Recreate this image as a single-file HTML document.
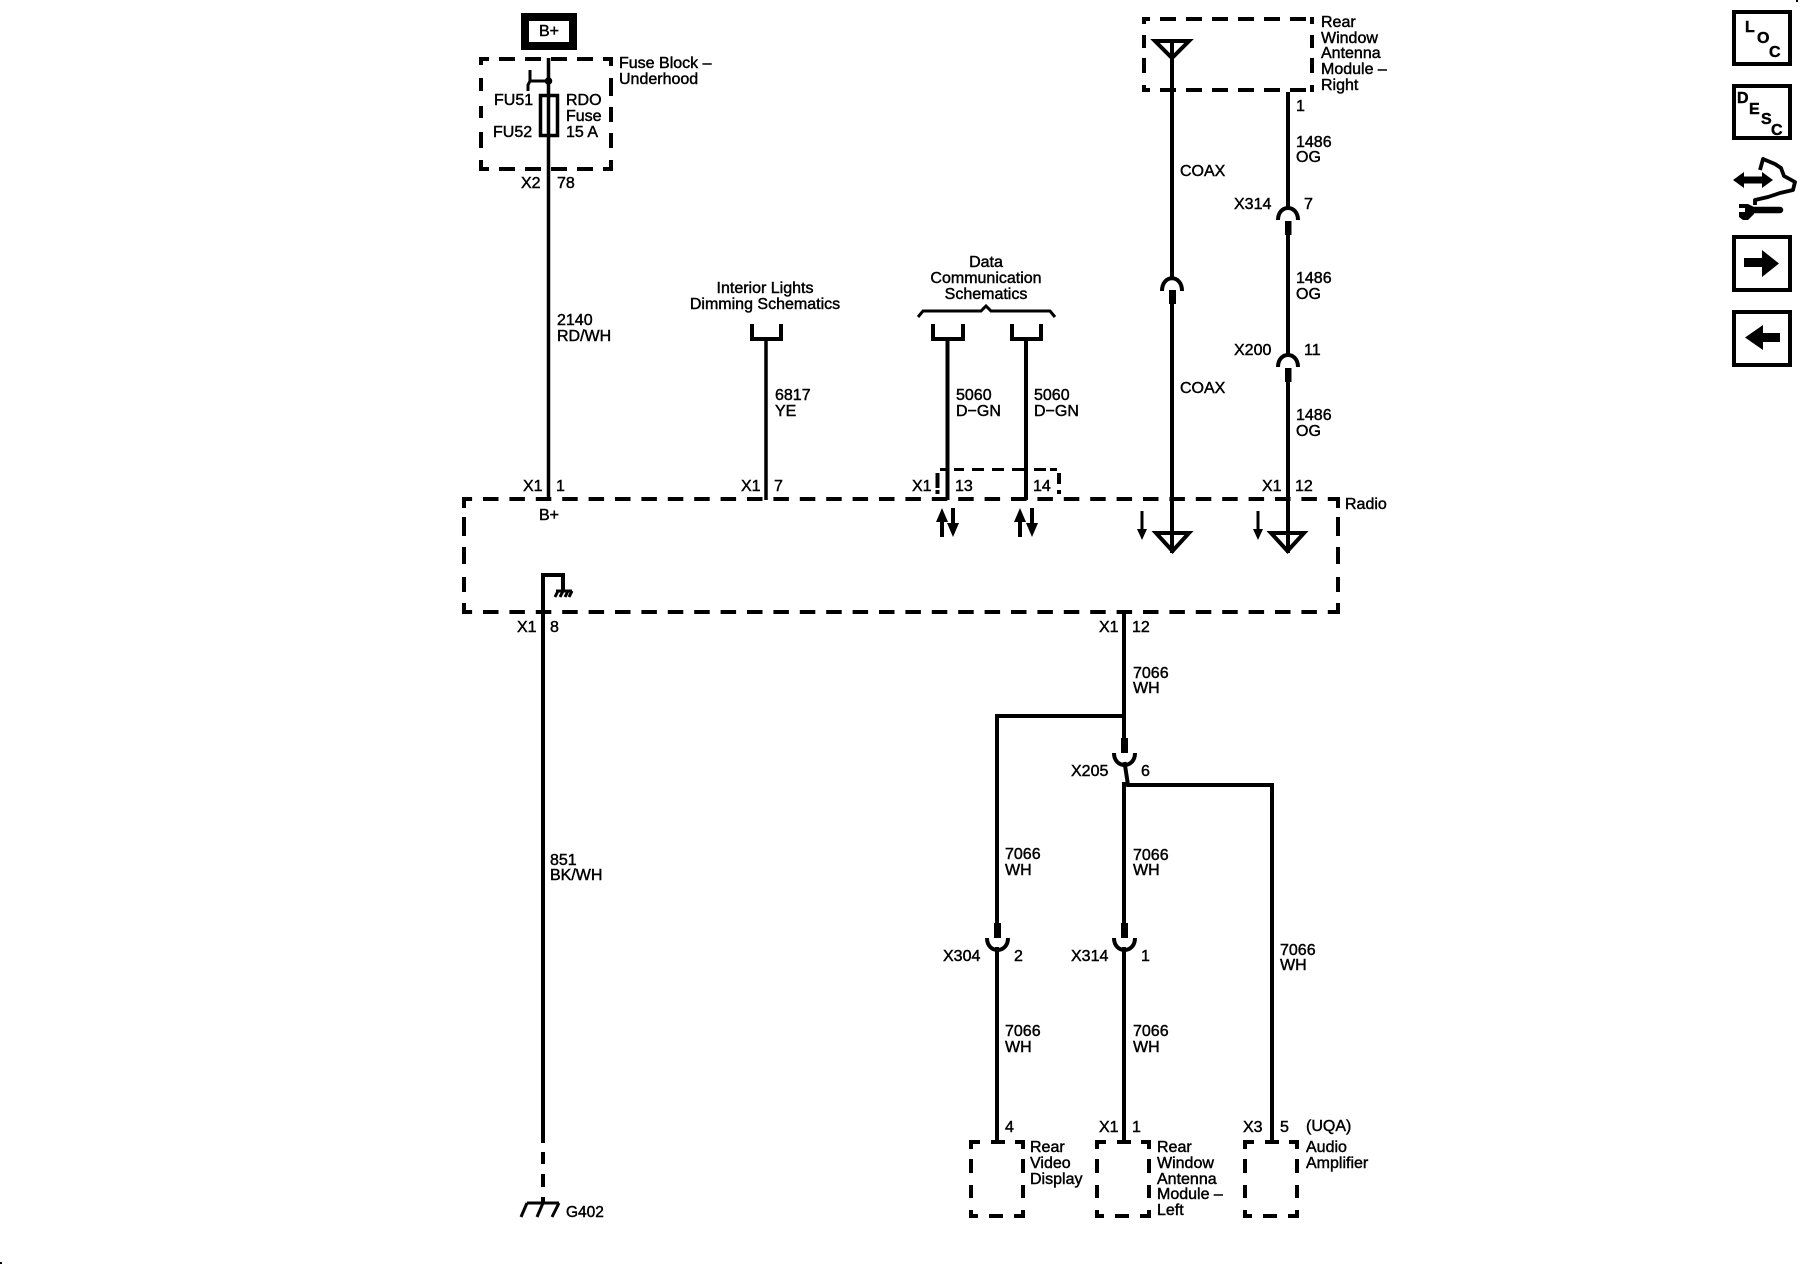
<!DOCTYPE html>
<html><head><meta charset="utf-8"><title>Radio wiring schematic</title>
<style>
html,body{margin:0;padding:0;background:#fff}
svg{display:block}
text{font-family:"Liberation Sans",sans-serif;font-size:16px;fill:#000;stroke:#000;stroke-width:.45px}
.m{text-anchor:middle}
.b{font-weight:bold}
.s{fill:none;stroke:#000;stroke-width:4}
.w{fill:none;stroke:#000;stroke-width:3.5}
.t{fill:none;stroke:#000;stroke-width:3}
.f{fill:#000;stroke:none}
.d{fill:none;stroke:#000;stroke-width:4;stroke-dasharray:15.5 10.9;stroke-dashoffset:5.4}
</style></head><body>
<svg xmlns="http://www.w3.org/2000/svg" width="1800" height="1280" viewBox="0 0 1800 1280">
<rect width="1800" height="1280" fill="#fff"/>

<!-- B+ source -->
<rect x="525" y="17" width="48" height="29" fill="none" stroke="#000" stroke-width="8"/>
<text x="539" y="36">B+</text>

<!-- Fuse block -->
<path class="s" d="M481 65V59H489M499 59H515M525 59H541M551 59H567M577 59H593M603 59H611V66M481 78V91M481 106V118M481 132V148M481 160V169H489M499 169H515M525 169H541M551 169H567M577 169H593M603 169H611V160M611 78V96M611 107V122M611 133V148"/>
<path class="w" d="M548.5 58V499"/>
<rect x="540.5" y="95.5" width="17" height="40" fill="none" stroke="#000" stroke-width="3.5"/>
<circle cx="548.5" cy="81" r="3.8" class="f"/>
<path class="t" d="M548 81H530M530 70V81L528 85V91"/>
<text x="619" y="68">Fuse Block –</text><text x="619" y="84">Underhood</text>
<text x="494" y="105">FU51</text><text x="493" y="137">FU52</text>
<text x="566" y="105">RDO</text><text x="566" y="121">Fuse</text><text x="566" y="137">15 A</text>
<text x="521" y="188">X2</text><text x="557" y="188">78</text>
<text x="557" y="325">2140</text><text x="557" y="341">RD/WH</text>

<!-- Interior lights -->
<text class="m" x="765" y="293">Interior Lights</text>
<text class="m" x="765" y="309">Dimming Schematics</text>
<path class="s" d="M752 324V339H781V324"/>
<path class="w" d="M766 339V500"/>
<text x="775" y="400">6817</text><text x="775" y="416">YE</text>

<!-- Data communication -->
<text class="m" x="986" y="267">Data</text>
<text class="m" x="986" y="283">Communication</text>
<text class="m" x="986" y="299">Schematics</text>
<path class="t" d="M918 317L923 311H981L986 306L991 311H1050L1055 317"/>
<path class="s" d="M933 324V339H963V324M1012 324V339H1041V324"/>
<path class="s" d="M947.5 339V500M1026 339V500"/>
<text x="956" y="400">5060</text><text x="956" y="416">D−GN</text>
<text x="1034" y="400">5060</text><text x="1034" y="416">D−GN</text>

<!-- Dashed sub-connector -->
<path class="t" d="M940 469.5H948M954 469.5H964M972 469.5H984M992 469.5H1004M1012 469.5H1026M1034 469.5H1046M1050 469.5H1057"/>
<path class="s" d="M937.5 473V488M937.5 490V494M1059 473V484M1059 490V494"/>

<!-- Radio box -->
<path class="d" d="M462 499H1340"/>
<path class="d" d="M462 612H1340"/>
<path class="s" d="M464 497V508M464 517V536M464 547V564M464 577V592M464 603V614M1338 497V508M1338 517V536M1338 547V564M1338 577V592M1338 603V614"/>
<text x="1345" y="509">Radio</text>
<text x="539" y="520">B+</text>

<!-- X1 labels on top of radio -->
<text x="523" y="491">X1</text><text x="556" y="491">1</text>
<text x="741" y="491">X1</text><text x="774" y="491">7</text>
<text x="912" y="491">X1</text><text x="955" y="491">13</text>
<text x="1033" y="491">14</text>
<text x="1262" y="491">X1</text><text x="1295" y="491">12</text>

<!-- Signal direction arrows -->
<path class="f" d="M942 508L948 522H944V537H940V522H936Z"/>
<path class="f" d="M953 537L947 523H951V508H955V523H959Z"/>
<path class="f" d="M1020 508L1026 522H1022V537H1018V522H1014Z"/>
<path class="f" d="M1032 537L1026 523H1030V508H1034V523H1038Z"/>
<path class="f" d="M1142 540L1137 529H1140.5V511H1143.5V529H1147Z"/>
<path class="f" d="M1258 540L1253 529H1256.5V511H1259.5V529H1263Z"/>

<!-- Rear window antenna module, right -->
<path class="s" d="M1144 24V19H1150M1160 19H1176M1186 19H1202M1212 19H1228M1238 19H1254M1264 19H1280M1290 19H1306M1310 19H1312V24M1144 35V48M1144 58V73M1144 85V90H1150M1160 90H1176M1186 90H1202M1212 90H1228M1238 90H1254M1264 90H1280M1290 90H1306M1310 90H1312V85M1312 35V48M1312 58V73"/>
<path class="s" d="M1172 39V279M1155 41H1189L1172 58Z"/>
<text x="1321" y="27">Rear</text><text x="1321" y="43">Window</text><text x="1321" y="58">Antenna</text><text x="1321" y="74">Module –</text><text x="1321" y="90">Right</text>
<text x="1180" y="176">COAX</text><text x="1180" y="393">COAX</text>
<path class="s" d="M1162 291C1162 274 1182 274 1182 291"/>
<rect x="1169" y="290" width="7" height="14" class="f"/>
<path class="s" d="M1172 304V553"/>
<path class="s" d="M1156 533H1189L1172.5 551Z"/>

<!-- 1486 chain -->
<path class="s" d="M1288 92V209"/>
<text x="1296" y="111">1</text>
<text x="1296" y="147">1486</text><text x="1296" y="162">OG</text>
<text x="1234" y="209">X314</text><text x="1304" y="209">7</text>
<path class="s" d="M1278 220C1278 204 1298 204 1298 220"/>
<rect x="1285" y="221" width="6.5" height="14" class="f"/>
<path class="s" d="M1288 235V356"/>
<text x="1296" y="283">1486</text><text x="1296" y="299">OG</text>
<text x="1234" y="355">X200</text><text x="1304" y="355">11</text>
<path class="s" d="M1278 367C1278 351 1298 351 1298 367"/>
<rect x="1285" y="368" width="6.5" height="14" class="f"/>
<path class="s" d="M1288 382V553"/>
<text x="1296" y="420">1486</text><text x="1296" y="436">OG</text>
<path class="s" d="M1271 533H1304L1287.5 551Z"/>

<!-- Ground inside radio and G402 -->
<path class="s" d="M543 1143V575H563V591"/>
<path class="s" d="M543 1152V1164M543 1174V1187M543 1197V1203"/>
<path class="t" d="M556 591H572M558 591L555 597M563 591L560 597M568 591L565 597M572 591L569 597"/>
<text x="517" y="632">X1</text><text x="550" y="632">8</text>
<text x="550" y="865">851</text><text x="550" y="880">BK/WH</text>
<path class="t" d="M527 1203H559M527 1203L521 1217M543 1203L537 1217M559 1203L552 1217"/>
<text style="font-size:15.5px" x="566" y="1217">G402</text>

<!-- 7066 harness -->
<text x="1099" y="632">X1</text><text x="1132" y="632">12</text>
<path class="s" d="M1124 612V738"/>
<text x="1133" y="678">7066</text><text x="1133" y="693">WH</text>
<path class="s" d="M1124 716H997V923"/>
<rect x="1121" y="738" width="7" height="15" class="f"/>
<path class="s" d="M1114 753C1114 769 1135 769 1135 753"/>
<path class="s" d="M1124.5 762L1128 785H1272V1142M1124 782V923"/>
<text x="1071" y="776">X205</text><text x="1141" y="776">6</text>
<text x="1005" y="859">7066</text><text x="1005" y="875">WH</text>
<text x="1133" y="860">7066</text><text x="1133" y="875">WH</text>
<text x="1280" y="955">7066</text><text x="1280" y="970">WH</text>

<rect x="994" y="923" width="7" height="15" class="f"/>
<path class="s" d="M987 938C987 954 1008 954 1008 938"/>
<path class="s" d="M997 947V1142"/>
<text x="943" y="961">X304</text><text x="1014" y="961">2</text>
<rect x="1121" y="923" width="7" height="15" class="f"/>
<path class="s" d="M1114 938C1114 954 1135 954 1135 938"/>
<path class="s" d="M1124 947V1142"/>
<text x="1071" y="961">X314</text><text x="1141" y="961">1</text>
<text x="1005" y="1036">7066</text><text x="1005" y="1052">WH</text>
<text x="1133" y="1036">7066</text><text x="1133" y="1052">WH</text>

<!-- Bottom modules -->
<g transform="translate(971 1142)"><path class="s" d="M0 7V0H9M20 0H34M44 0H52V7M0 17V31M0 43V56M0 68V74H7M18 74H32M43 74H52V68M52 17V31M52 43V56"/></g>
<g transform="translate(1097 1142)"><path class="s" d="M0 7V0H9M20 0H34M44 0H52V7M0 17V31M0 43V56M0 68V74H7M18 74H32M43 74H52V68M52 17V31M52 43V56"/></g>
<g transform="translate(1245 1142)"><path class="s" d="M0 7V0H9M20 0H34M44 0H52V7M0 17V31M0 43V56M0 68V74H7M18 74H32M43 74H52V68M52 17V31M52 43V56"/></g>
<text x="1005" y="1132">4</text>
<text x="1099" y="1132">X1</text><text x="1132" y="1132">1</text>
<text x="1243" y="1132">X3</text><text x="1280" y="1132">5</text>
<text x="1306" y="1131">(UQA)</text>
<text x="1030" y="1152">Rear</text><text x="1030" y="1168">Video</text><text x="1030" y="1184">Display</text>
<text x="1157" y="1152">Rear</text><text x="1157" y="1168">Window</text><text x="1157" y="1184">Antenna</text><text x="1157" y="1199">Module –</text><text x="1157" y="1215">Left</text>
<text x="1306" y="1152">Audio</text><text x="1306" y="1168">Amplifier</text>

<!-- Right icon column -->
<rect x="1734" y="12" width="56" height="52" class="s"/>
<text class="b" x="1745" y="32">L</text><text class="b" x="1757" y="43">O</text><text class="b" x="1769" y="57">C</text>
<rect x="1734" y="86" width="56" height="52" class="s"/>
<text class="b" x="1737" y="103">D</text><text class="b" x="1749" y="114">E</text><text class="b" x="1761" y="124">S</text><text class="b" x="1771" y="135">C</text>

<!-- Service / wrench icon -->
<path class="f" d="M1733 180L1744 172V176.500H1762V172L1773 180L1762 188V183.500H1744V188Z"/>
<path fill="none" stroke="#000" stroke-width="6.500" stroke-linecap="round" d="M1750 210H1780"/>
<path class="f" d="M1739 204H1748L1754 207V214L1748 220H1743L1739 217V212H1745V208H1739Z"/>
<path fill="none" stroke="#000" stroke-width="3.800" stroke-linejoin="round" d="M1760 170L1763 159L1775 164L1781 168L1784 176L1795 182L1793 190L1780 193L1768 197L1755 200L1755 205"/>

<rect x="1734" y="237" width="56" height="53" class="s"/>
<path class="f" d="M1744 258H1762V250L1779 263.5L1762 277V267H1744Z"/>
<rect x="1734" y="312" width="56" height="53" class="s"/>
<path class="f" d="M1780 333H1763V325L1745 337.5L1763 350V342H1780Z"/>

<rect x="0" y="1262" width="2" height="2" class="f"/>
<rect x="1796" y="0" width="2" height="2" class="f"/>
</svg>
</body></html>
